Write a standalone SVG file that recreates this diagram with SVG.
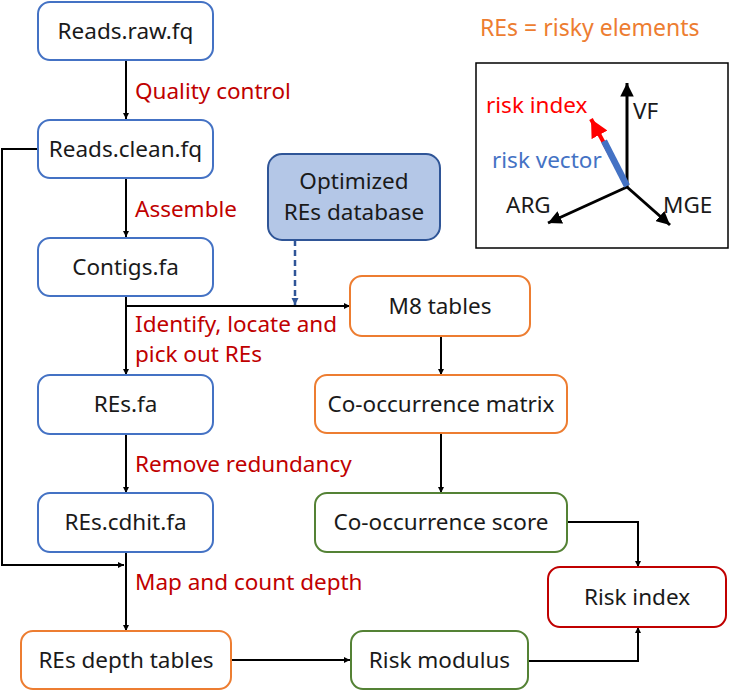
<svg xmlns="http://www.w3.org/2000/svg" width="729" height="691" viewBox="0 0 729 691">
<defs>
<style>
.n rect{fill:#fff;stroke-width:2}
.b rect{stroke:#4472c4}
.o rect{stroke:#ed7d31}
.g rect{stroke:#548235}
.r rect{stroke:#c00000}
text{font-family:"Noto Sans","Open Sans","Liberation Sans",sans-serif;font-size:22.5px}
.n text{fill:#1a1a1a;text-anchor:middle}
.lab{fill:#c00000}
.c{fill:none;stroke:#000;stroke-width:2}
</style>
<marker id="ah" viewBox="0 0 10 10" refX="10" refY="5" markerWidth="6" markerHeight="7" markerUnits="userSpaceOnUse" orient="auto"><path d="M0,0L10,5L0,10z" fill="#000"/></marker>
<marker id="ahb" viewBox="0 0 10 10" refX="10" refY="5" markerWidth="7" markerHeight="8" markerUnits="userSpaceOnUse" orient="auto"><path d="M0,0L10,5L0,10z" fill="#2f5597"/></marker>
<marker id="ahk" viewBox="0 0 10 10" refX="10" refY="5" markerWidth="4.5" markerHeight="4.5" orient="auto"><path d="M0,0L10,5L0,10z" fill="#000"/></marker>
<marker id="ahr" viewBox="0 0 10 10" refX="10" refY="5" markerWidth="4.5" markerHeight="4.5" orient="auto"><path d="M0,0L10,5L0,10z" fill="#ff0000"/></marker>
</defs>

<g id="connectors">
<line class="c" x1="126" y1="60" x2="126" y2="119" marker-end="url(#ah)"/>
<line class="c" x1="126" y1="178" x2="126" y2="237" marker-end="url(#ah)"/>
<line class="c" x1="126" y1="296" x2="126" y2="375" marker-end="url(#ah)"/>
<line class="c" x1="126" y1="306" x2="350" y2="306" marker-end="url(#ah)"/>
<line x1="295" y1="240" x2="295" y2="305" stroke="#2f5597" stroke-width="2.5" stroke-dasharray="6,4" marker-end="url(#ahb)"/>
<line class="c" x1="126" y1="434" x2="126" y2="493" marker-end="url(#ah)"/>
<line class="c" x1="126" y1="552" x2="126" y2="631" marker-end="url(#ah)"/>
<polyline class="c" points="38,149 2,149 2,565 124,565" marker-end="url(#ah)"/>
<line class="c" x1="441" y1="336" x2="441" y2="375" marker-end="url(#ah)"/>
<line class="c" x1="441" y1="433" x2="441" y2="493" marker-end="url(#ah)"/>
<polyline class="c" points="567,522 638,522 638,567" marker-end="url(#ah)"/>
<polyline class="c" points="528,661 638,661 638,627" marker-end="url(#ah)"/>
<line class="c" x1="232" y1="660" x2="350" y2="660" marker-end="url(#ah)"/>
</g>

<g id="labels">
<text class="lab" x="135" y="99">Quality control</text>
<text class="lab" x="135" y="217">Assemble</text>
<text class="lab" x="135" y="332">Identify, locate and</text>
<text class="lab" x="135" y="362">pick out REs</text>
<text class="lab" x="135" y="472">Remove redundancy</text>
<text class="lab" x="135" y="590">Map and count depth</text>
</g>

<g id="reads-raw" class="n b"><rect x="38" y="2" width="175" height="58" rx="12"/><text x="125.5" y="39">Reads.raw.fq</text></g>
<g id="reads-clean" class="n b"><rect x="38" y="120" width="175" height="58" rx="12"/><text x="125.5" y="157">Reads.clean.fq</text></g>
<g id="contigs" class="n b"><rect x="38" y="238" width="175" height="58" rx="12"/><text x="125.5" y="275">Contigs.fa</text></g>
<g id="res-fa" class="n b"><rect x="38" y="375" width="175" height="59" rx="12"/><text x="125.5" y="412">REs.fa</text></g>
<g id="res-cdhit" class="n b"><rect x="38" y="493" width="175" height="59" rx="12"/><text x="125.5" y="530">REs.cdhit.fa</text></g>
<g id="res-depth" class="n o"><rect x="21" y="631" width="210" height="58" rx="12"/><text x="126" y="668">REs depth tables</text></g>

<g id="optimized-db"><rect x="268" y="154" width="172" height="86" rx="14" fill="#b4c7e7" stroke="#2f5597" stroke-width="2"/><text x="354" y="189" text-anchor="middle" fill="#1a1a1a">Optimized</text><text x="354" y="220" text-anchor="middle" fill="#1a1a1a">REs database</text></g>

<g id="m8" class="n o"><rect x="350" y="276" width="180" height="60" rx="12"/><text x="440" y="314">M8 tables</text></g>
<g id="co-matrix" class="n o"><rect x="315" y="375" width="252" height="58" rx="12"/><text x="441" y="412">Co-occurrence matrix</text></g>
<g id="co-score" class="n g"><rect x="315" y="493" width="252" height="59" rx="12"/><text x="441" y="530">Co-occurrence score</text></g>
<g id="risk-modulus" class="n g"><rect x="351" y="631" width="177" height="58" rx="12"/><text x="439.5" y="668">Risk modulus</text></g>
<g id="risk-index" class="n r"><rect x="548" y="567" width="178" height="60" rx="12"/><text x="637" y="605">Risk index</text></g>

<g id="legend">
<text x="480" y="36" fill="#ed7d31" style="font-size:23px">REs = risky elements</text>
<rect x="476" y="63" width="252" height="185" fill="#fff" stroke="#000" stroke-width="1.5"/>
<line x1="627" y1="187" x2="627" y2="83" stroke="#000" stroke-width="3" marker-end="url(#ahk)"/>
<line x1="627" y1="187" x2="548" y2="223" stroke="#000" stroke-width="3" marker-end="url(#ahk)"/>
<line x1="627" y1="187" x2="670" y2="225" stroke="#000" stroke-width="3" marker-end="url(#ahk)"/>
<line x1="626" y1="184" x2="591" y2="119" stroke="#ff0000" stroke-width="4" marker-end="url(#ahr)"/>
<line x1="627" y1="186" x2="604" y2="141" stroke="#4472c4" stroke-width="6.5"/>
<text x="486" y="113" fill="#ff0000">risk index</text>
<text x="492" y="168" fill="#4472c4">risk vector</text>
<text x="633" y="119" fill="#1a1a1a">VF</text>
<text x="506" y="213" fill="#1a1a1a">ARG</text>
<text x="663" y="213" fill="#1a1a1a">MGE</text>
</g>
</svg>
